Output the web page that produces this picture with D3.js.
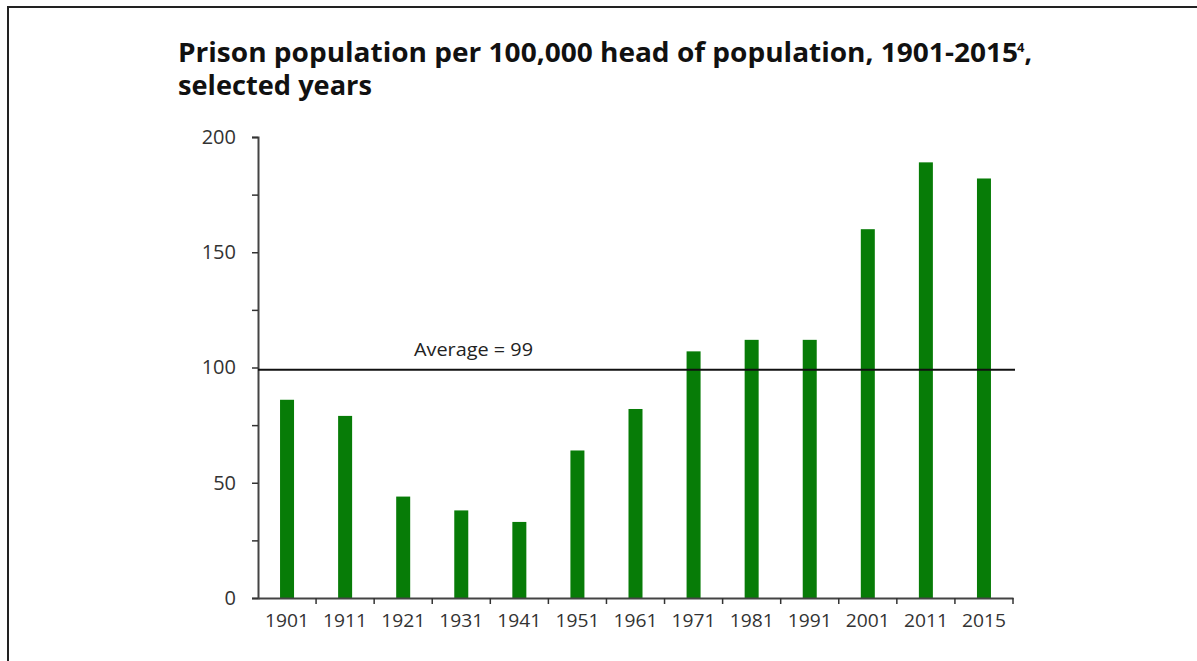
<!DOCTYPE html>
<html>
<head>
<meta charset="utf-8">
<script src="https://cdn.jsdelivr.net/npm/d3@7"></script>
<style>
  html, body { margin: 0; padding: 0; background: #fff; }
  svg { display: block; }
</style>
</head>
<body>
<svg id="chart" width="1197" height="661"></svg>
<script>
const years = ["1901","1911","1921","1931","1941","1951","1961","1971","1981","1991","2001","2011","2015"];
const rates = [86, 79, 44, 38, 33, 64, 82, 107, 112, 112, 160, 189, 182];
const yTicks = [0, 50, 100, 150, 200];
const yMinorTicks = [25, 75, 125, 175];
const averageValue = 99;
const averageLabel = "Average = 99";
const titleLines = ["Prison population per 100,000 head of population, 1901-2015", "selected years"];

const svg = d3.select("#chart");
const labelFont = "'Open Sans', 'DejaVu Sans', sans-serif";

// frame (top and left)
svg.append("line").attr("x1", 7).attr("x2", 1197).attr("y1", 7).attr("y2", 7)
  .attr("stroke", "#222").attr("stroke-width", 2);
svg.append("line").attr("x1", 8).attr("x2", 8).attr("y1", 7).attr("y2", 661)
  .attr("stroke", "#222").attr("stroke-width", 2);

// title
const title = svg.append("text").attr("x", 178).attr("y", 62)
  .attr("font-family", labelFont).attr("font-weight", 700).attr("font-size", 26.5).attr("fill", "#111");
title.append("tspan").attr("textLength", 840).attr("lengthAdjust", "spacingAndGlyphs").text(titleLines[0]);
title.append("tspan").attr("dy", -10).attr("dx", -1).attr("font-size", 13).text("4");
title.append("tspan").attr("dy", 10).text(",");
svg.append("text").attr("x", 178).attr("y", 95)
  .attr("font-family", labelFont).attr("font-weight", 700).attr("font-size", 26.5).attr("fill", "#111")
  .attr("textLength", 194).attr("lengthAdjust", "spacingAndGlyphs")
  .text(titleLines[1]);

const x = d3.scaleBand().domain(years).range([258, 1013]).padding(0);
const y = d3.scaleLinear().domain([0, 200]).range([598, 137]);
const barW = 14;

// bars
svg.append("g").selectAll("rect").data(years).join("rect")
  .attr("x", (d) => x(d) + x.bandwidth() / 2 - barW / 2)
  .attr("width", barW)
  .attr("y", (d, i) => y(rates[i]))
  .attr("height", (d, i) => y(0) - y(rates[i]))
  .attr("fill", "#077c07");

// y axis
const yAxis = svg.append("g").attr("transform", "translate(258,0)")
  .call(d3.axisLeft(y).tickValues(yTicks).tickSize(6).tickPadding(16).tickFormat(d3.format("d")));
yAxis.select(".domain").attr("stroke", "#444").attr("stroke-width", 2);
yAxis.selectAll(".tick line").attr("stroke", "#333").attr("stroke-width", 1.5);
yAxis.selectAll(".tick text").attr("font-family", labelFont).attr("font-size", 20).attr("fill", "#333");
svg.append("g").attr("transform", "translate(258,0)")
  .call(d3.axisLeft(y).tickValues(yMinorTicks).tickSize(6).tickFormat(""))
  .call((g) => g.select(".domain").remove())
  .selectAll(".tick line").attr("stroke", "#333").attr("stroke-width", 1.5);

// x axis
const xAxis = svg.append("g").attr("transform", "translate(0,598)")
  .call(d3.axisBottom(x).tickSize(0).tickPadding(16));
xAxis.select(".domain").attr("stroke", "#444").attr("stroke-width", 2);
xAxis.selectAll(".tick text").attr("font-family", labelFont).attr("font-size", 18).attr("fill", "#333")
  .attr("textLength", 44).attr("lengthAdjust", "spacingAndGlyphs");
// boundary ticks
const bounds = years.map((d) => x(d)).concat([x(years[years.length - 1]) + x.bandwidth()]);
svg.append("g").selectAll("line").data(bounds.slice(1)).join("line")
  .attr("x1", (d) => d).attr("x2", (d) => d).attr("y1", 598).attr("y2", 604)
  .attr("stroke", "#333").attr("stroke-width", 1.5);

// average line
svg.append("line").attr("x1", 258).attr("x2", 1015)
  .attr("y1", y(averageValue)).attr("y2", y(averageValue))
  .attr("stroke", "#111").attr("stroke-width", 2);
svg.append("text").attr("x", 414).attr("y", 356)
  .attr("font-family", labelFont).attr("font-size", 18.5).attr("fill", "#222")
  .attr("textLength", 119).attr("lengthAdjust", "spacingAndGlyphs")
  .text(averageLabel);
</script>
</body>
</html>
